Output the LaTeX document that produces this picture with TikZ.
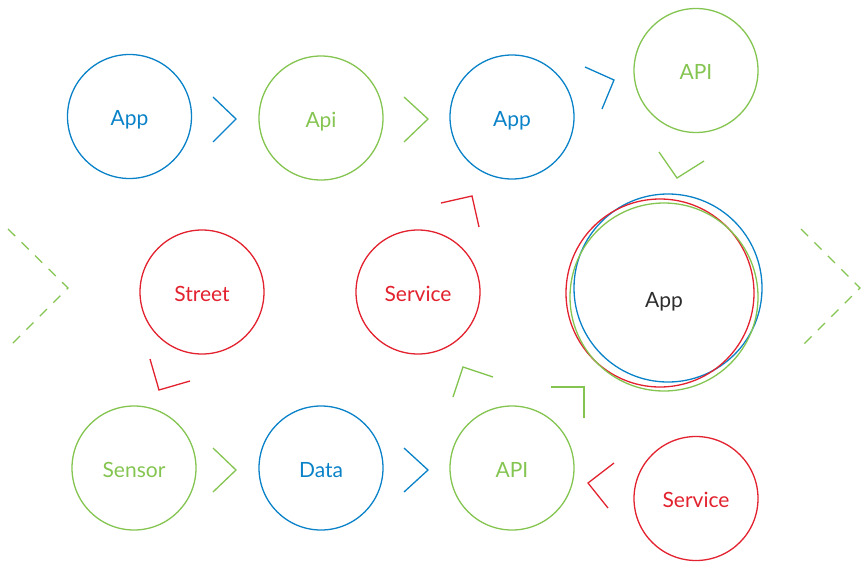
\documentclass[tikz,border=0pt]{standalone}
\usepackage{fontspec}
\setmainfont{Lato}
\definecolor{appblue}{RGB}{10,130,200}
\definecolor{apigreen}{RGB}{132,196,80}
\definecolor{svcred}{RGB}{226,34,46}
\definecolor{txtgray}{RGB}{45,45,45}

\begin{document}
\begin{tikzpicture}[x = 1pt, y = -1pt,
  lbl/.style = {font = \fontsize{21}{24}\selectfont, text height = 18pt, text depth = 0pt},
  bub/.style = {lbl, draw, circle, line width = 1.3pt, minimum size = 124pt, inner sep = 0pt},
  chev/.style = {line width = 1.3pt},
  dashchev/.style = {line width = 1.3pt, dash pattern = on 10pt off 9pt}]
\useasboundingbox (0, 0) rectangle (861, 562);
% top row
\node[bub, appblue] (app1) at (129.5, 116.5){App};
\node[bub, apigreen] (api1) at (321.0, 118.0){Api};
\node[bub, appblue] (app2) at (512.0, 117.0){App};
\node[bub, apigreen] (api2) at (696.0, 70.5){API};
% middle row
\node[bub, svcred] (street) at (202.0, 292.0){Street};
\node[bub, svcred] (service1) at (418.0, 292.0){Service};
\draw[appblue, line width = 1.3pt] (668.0, 288.0) circle [radius = 94];
\draw[svcred, line width = 1.3pt] (660.0, 293.0) circle [radius = 94];
\draw[apigreen, line width = 1.3pt] (664.0, 297.0) circle [radius = 94];
\node[lbl, txtgray] (app3) at (664.0, 298.0){App};
% bottom row
\node[bub, apigreen] (sensor) at (134.0, 468.0){Sensor};
\node[bub, appblue] (data) at (321.0, 468.0){Data};
\node[bub, apigreen] (api3) at (512.0, 468.0){API};
\node[bub, svcred] (service2) at (696.0, 498.5){Service};
% chevrons
\draw[chev, appblue] (213, 97) -- (236, 119) -- (213, 142);
\draw[chev, apigreen] (404, 97) -- (428, 119) -- (404, 142);
\draw[chev, appblue] (585, 67) -- (614, 80) -- (602, 109);
\draw[chev, apigreen] (659, 152) -- (677, 178) -- (704, 161);
\draw[chev, svcred] (441, 203) -- (472, 196) -- (479, 227);
\draw[chev, svcred] (150, 359) -- (159, 390) -- (190, 381);
\draw[chev, apigreen] (213, 448) -- (236, 470) -- (213, 492);
\draw[chev, appblue] (404, 448) -- (428, 470) -- (404, 492);
\draw[chev, apigreen] (453, 397) -- (463, 367) -- (493, 377);
\draw[chev, apigreen] (551, 387) -- (584, 387) -- (584, 418);
\draw[chev, svcred] (614, 463) -- (588, 483) -- (608, 508);
\draw[dashchev, apigreen] (8, 229) -- (68, 288) -- (8, 348);
\draw[dashchev, apigreen] (801, 229) -- (860, 288) -- (800, 348);
\end{tikzpicture}
\end{document}
